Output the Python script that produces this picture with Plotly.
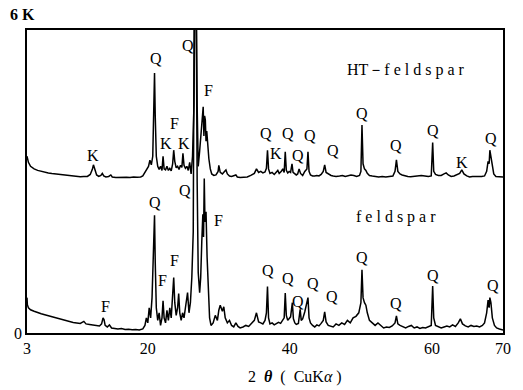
import plotly.graph_objects as go

# HT-feldspar (upper) pattern: 2theta (deg) and intensity (counts)
ht_x = [3.0, 3.2, 3.5, 4.0, 4.5, 5.0, 5.5, 6.0, 6.5, 7.0, 7.5, 8.0, 8.5, 9.0, 9.5, 10.0, 10.5, 11.0, 11.5,
        11.9, 12.2, 12.35, 12.5, 12.8, 13.1, 13.4, 13.6, 13.8, 14.1, 14.5, 14.8, 15.0, 15.5, 16.0, 16.5, 17.0,
        17.5, 18.0, 18.5, 19.0, 19.3, 19.6, 19.9, 20.1, 20.3, 20.5, 20.7, 20.85, 20.95, 21.05, 21.2, 21.4,
        21.6, 21.8, 22.0, 22.15, 22.3, 22.5, 22.7, 22.9, 23.1, 23.3, 23.5, 23.65, 23.8, 24.0, 24.2, 24.4,
        24.6, 24.8, 24.95, 25.1, 25.3, 25.5, 25.7, 25.9, 26.1, 26.3, 26.5, 26.65, 26.8, 26.95, 27.1, 27.3,
        27.5, 27.7, 27.8, 27.9, 28.0, 28.1, 28.2, 28.3, 28.45, 28.6, 28.8, 29.0, 29.3, 29.6, 29.9, 30.0,
        30.2, 30.5, 30.8, 31.0, 31.2, 31.5, 31.8, 32.1, 32.4, 32.6, 33.0, 33.5, 34.0, 34.5, 35.0, 35.3,
        35.6, 35.9, 36.2, 36.5, 36.7, 36.85, 37.0, 37.2, 37.5, 37.8, 38.0, 38.3, 38.5, 38.8, 39.0, 39.2,
        39.35, 39.5, 39.7, 39.9, 40.1, 40.3, 40.45, 40.7, 40.9, 41.1, 41.3, 41.5, 41.8, 42.1, 42.4, 42.55,
        42.7, 42.9, 43.2, 43.5, 43.8, 44.1, 44.4, 44.7, 44.9, 45.1, 45.4, 45.8, 46.1, 46.5, 47.0, 47.4,
        47.8, 48.2, 48.6, 49.0, 49.4, 49.8, 50.0, 50.15, 50.3, 50.5, 50.7, 50.9, 51.2, 51.6, 52.0, 52.5,
        53.0, 53.5, 54.0, 54.5, 54.8, 55.0, 55.2, 55.5, 55.8, 56.2, 56.6, 57.0, 57.5, 58.0, 58.5, 59.0,
        59.5, 59.9, 60.1, 60.25, 60.5, 60.9, 61.3, 61.7, 62.0, 62.3, 62.7, 63.1, 63.5, 63.9, 64.2, 64.5,
        64.9, 65.3, 65.7, 66.1, 66.5, 67.0, 67.4, 67.7, 67.9, 68.05, 68.15, 68.3, 68.45, 68.7, 69.0, 69.5,
        70.0]
ht_y = [3500, 3380, 3300, 3250, 3220, 3200, 3190, 3170, 3160, 3150, 3140, 3135, 3120, 3110, 3105, 3100, 3095, 3100, 3100,
        3140, 3240, 3330, 3250, 3130, 3100, 3120, 3160, 3110, 3090, 3100, 3130, 3090, 3080, 3085, 3080, 3085,
        3080, 3090, 3085, 3090, 3110, 3180, 3260, 3300, 3420, 3330, 3500, 4200, 5150, 4300, 3500, 3300,
        3240, 3300, 3220, 3500, 3250, 3230, 3300, 3220, 3260, 3210, 3350, 3620, 3400, 3270, 3300, 3240,
        3320, 3280, 3560, 3320, 3260, 3300, 3220, 3380, 3150, 3500, 4500, 7000, 7000, 4500, 3300, 3600,
        3900, 4200, 4480, 3900, 4300, 4220, 3800, 4000, 3700, 3450, 3250, 3150, 3120, 3130, 3200, 3320,
        3180, 3150, 3200, 3230, 3150, 3110, 3100, 3120, 3130, 3090, 3080, 3085, 3090, 3120, 3160, 3250,
        3180, 3200, 3170, 3190, 3260, 3620, 3250, 3160, 3180, 3140, 3180, 3220, 3160, 3200, 3250, 3180,
        3590, 3220, 3170, 3200, 3180, 3350, 3180, 3150, 3130, 3150, 3250, 3160, 3120, 3200, 3250, 3590,
        3200, 3130, 3110, 3110, 3120, 3110, 3140, 3200, 3330, 3180, 3150, 3120, 3110, 3100, 3110, 3120,
        3100, 3110, 3130, 3120, 3100, 3120, 3200, 4120, 3350, 3250, 3220, 3160, 3120, 3110, 3100, 3090,
        3100, 3090, 3100, 3110, 3200, 3430, 3200, 3150, 3130, 3110, 3100, 3095, 3100, 3110, 3120, 3110,
        3100, 3110, 3770, 3200, 3140, 3120, 3120, 3150, 3170, 3130, 3100, 3110, 3130, 3160, 3230, 3150,
        3110, 3090, 3100, 3100, 3090, 3100, 3110, 3200, 3400, 3350, 3620, 3500, 3300, 3150, 3100, 3090,
        3090]

# feldspar (lower) pattern
fs_x = [3.0, 3.05, 3.2, 3.5, 4.0, 4.5, 5.0, 5.5, 6.0, 6.5, 7.0, 7.5, 8.0, 8.5, 9.0, 9.5, 10.0, 10.5, 11.0,
        11.3, 11.8, 12.3, 12.8, 13.2, 13.5, 13.7, 13.85, 14.0, 14.3, 14.6, 14.9, 15.3, 15.8, 16.3, 16.8,
        17.3, 17.8, 18.3, 18.8, 19.3, 19.6, 19.8, 20.0, 20.2, 20.4, 20.6, 20.8, 20.95, 21.05, 21.2, 21.4,
        21.6, 21.8, 22.0, 22.15, 22.3, 22.5, 22.7, 22.9, 23.1, 23.3, 23.5, 23.65, 23.8, 24.0, 24.2, 24.35,
        24.5, 24.7, 24.9, 25.1, 25.3, 25.6, 25.8, 26.0, 26.2, 26.4, 26.55, 26.8, 26.95, 27.1, 27.3, 27.45,
        27.6, 27.75, 27.85, 27.95, 28.05, 28.2, 28.35, 28.5, 28.7, 28.9, 29.2, 29.5, 29.8, 30.0, 30.2,
        30.5, 30.7, 30.9, 31.2, 31.5, 31.8, 32.1, 32.4, 32.7, 33.0, 33.4, 33.8, 34.2, 34.6, 35.0, 35.3,
        35.6, 35.9, 36.2, 36.5, 36.7, 36.85, 37.0, 37.2, 37.5, 37.8, 38.1, 38.4, 38.7, 39.0, 39.2, 39.35,
        39.5, 39.7, 39.9, 40.1, 40.35, 40.5, 40.7, 40.9, 41.2, 41.45, 41.6, 41.8, 42.1, 42.35, 42.55, 42.7,
        42.9, 43.2, 43.5, 43.8, 44.1, 44.4, 44.7, 44.9, 45.1, 45.4, 45.8, 46.1, 46.5, 46.9, 47.3, 47.7,
        48.1, 48.5, 48.9, 49.3, 49.7, 50.0, 50.15, 50.3, 50.5, 50.7, 50.9, 51.2, 51.6, 52.0, 52.4, 52.8,
        53.2, 53.6, 54.0, 54.4, 54.8, 55.0, 55.2, 55.5, 55.9, 56.3, 56.7, 57.1, 57.5, 57.9, 58.3, 58.7,
        59.1, 59.5, 59.9, 60.1, 60.25, 60.5, 60.9, 61.3, 61.7, 62.1, 62.5, 62.9, 63.3, 63.7, 64.0, 64.3,
        64.7, 65.1, 65.5, 65.9, 66.3, 66.7, 67.1, 67.4, 67.7, 67.9, 68.05, 68.15, 68.3, 68.5, 68.8, 69.1,
        69.5, 70.0]
fs_y = [700, 560, 500, 460, 430, 400, 380, 360, 340, 320, 300, 280, 260, 240, 230, 210, 200, 190, 230,
        180, 170, 160, 150, 140, 180, 300, 260, 150, 120, 160, 100, 90, 80, 90, 70,
        75, 65, 70, 60, 80, 150, 300, 200, 500, 300, 700, 1500, 2330, 1400, 500, 250,
        400, 150, 300, 640, 300, 200, 450, 250, 500, 300, 700, 1100, 600, 350, 500, 780,
        400, 250, 400, 300, 500, 800, 400, 600, 1100, 2000, 7000, 7000, 3000, 1200, 800, 1100,
        1800, 2350, 1900, 3060, 2200, 2400, 1500, 900, 300, 150, 200, 350, 250, 450, 550,
        430, 520, 300, 200, 250, 150, 120, 200, 130, 100, 120, 150, 130, 200, 250, 400,
        220, 200, 180, 250, 400, 920, 300, 180, 200, 160, 180, 210, 190, 250, 300, 790,
        350, 250, 300, 320, 600, 280, 200, 170, 190, 470, 250, 280, 420, 550, 700, 300,
        200, 150, 120, 160, 140, 190, 250, 420, 220, 150, 130, 120, 180, 150, 200, 170,
        250, 200, 300, 330, 400, 600, 1250, 700, 600, 550, 400, 250, 200, 150, 200, 140,
        100, 120, 110, 140, 200, 340, 180, 150, 120, 100, 130, 150, 100, 120, 90, 110,
        100, 130, 150, 930, 300, 150, 120, 100, 120, 140, 120, 160, 130, 200, 280, 180,
        140, 120, 150, 130, 140, 120, 150, 200, 400, 650, 500, 700, 600, 300, 150, 100,
        80, 60]

# Phase labels: (2theta, intensity position, text)
ht_lab_x = [12.3, 21.1, 25.6, 28.6, 23.8, 22.5, 25.1, 36.6, 38.0, 39.8, 41.1, 42.9, 46.1, 50.2, 55.0, 60.2, 64.2, 68.3]
ht_lab_y = [3524, 5445, 5702, 4811, 4158, 3762, 3762, 3960, 3564, 3960, 3524, 3920, 3623, 4356, 3722, 4019, 3386, 3861]
ht_lab_t = ["K", "Q", "Q", "F", "F", "K", "K", "Q", "K", "Q", "Q", "Q", "Q", "Q", "Q", "Q", "K", "Q"]

fs_lab_x = [14.1, 21.0, 25.3, 30.0, 23.8, 22.1, 36.9, 39.7, 41.2, 43.3, 45.9, 50.2, 55.0, 60.2, 68.6]
fs_lab_y = [515, 2594, 2831, 2237, 1445, 1049, 1247, 1089, 614, 990, 713, 1505, 594, 1148, 950]
fs_lab_t = ["F", "Q", "Q", "F", "F", "F", "Q", "Q", "Q", "Q", "Q", "Q", "Q", "Q", "Q"]

x_ticks = [3, 20, 40, 60, 70]

FONT = "Liberation Serif, Times New Roman, serif"

fig = go.Figure()
fig.add_trace(go.Scatter(x=ht_x, y=ht_y, mode="lines", line=dict(color="black", width=1.5),
                         name="HT-feldspar", showlegend=False))
fig.add_trace(go.Scatter(x=fs_x, y=fs_y, mode="lines", line=dict(color="black", width=1.5),
                         name="feldspar", showlegend=False))

ann = []
for xs, ys, ts in ((ht_lab_x, ht_lab_y, ht_lab_t), (fs_lab_x, fs_lab_y, fs_lab_t)):
    for x, y, t in zip(xs, ys, ts):
        ann.append(dict(x=x, y=y, text=t, showarrow=False, xref="x", yref="y",
                        font=dict(family=FONT, size=16, color="black")))
ann.append(dict(x=56.4, y=5207, text="HT－f e l d s p a r", showarrow=False, xref="x", yref="y",
                font=dict(family=FONT, size=16, color="black")))
ann.append(dict(x=54.9, y=2297, text="f e l d s p a r", showarrow=False, xref="x", yref="y",
                font=dict(family=FONT, size=16, color="black")))
ann.append(dict(x=-0.01, y=1.05, xref="paper", yref="paper", xanchor="center", yanchor="middle",
                text="<b>6 K</b>", showarrow=False, font=dict(family=FONT, size=16, color="black")))
ann.append(dict(x=0.564, y=-0.145, xref="paper", yref="paper", xanchor="center", yanchor="middle",
                text="2  <b><i>θ</i></b>  (  CuK<i>α</i> )", showarrow=False,
                font=dict(family=FONT, size=16, color="black")))

fig.update_layout(
    width=523, height=390,
    margin=dict(l=27, r=12, t=30, b=57),
    paper_bgcolor="white", plot_bgcolor="white",
    annotations=ann,
    xaxis=dict(range=[3, 70], tickvals=x_ticks, ticktext=[str(v) for v in x_ticks],
               showgrid=False, zeroline=False, showline=True, linecolor="black", linewidth=1.5,
               mirror=True, ticks="", tickfont=dict(family=FONT, size=16, color="black")),
    yaxis=dict(range=[0, 6000], tickvals=[0], ticktext=["0"], showgrid=False, zeroline=False,
               showline=True, linecolor="black", linewidth=1.5, mirror=True, ticks="",
               tickfont=dict(family=FONT, size=16, color="black")),
)

fig.write_html("out.html")
